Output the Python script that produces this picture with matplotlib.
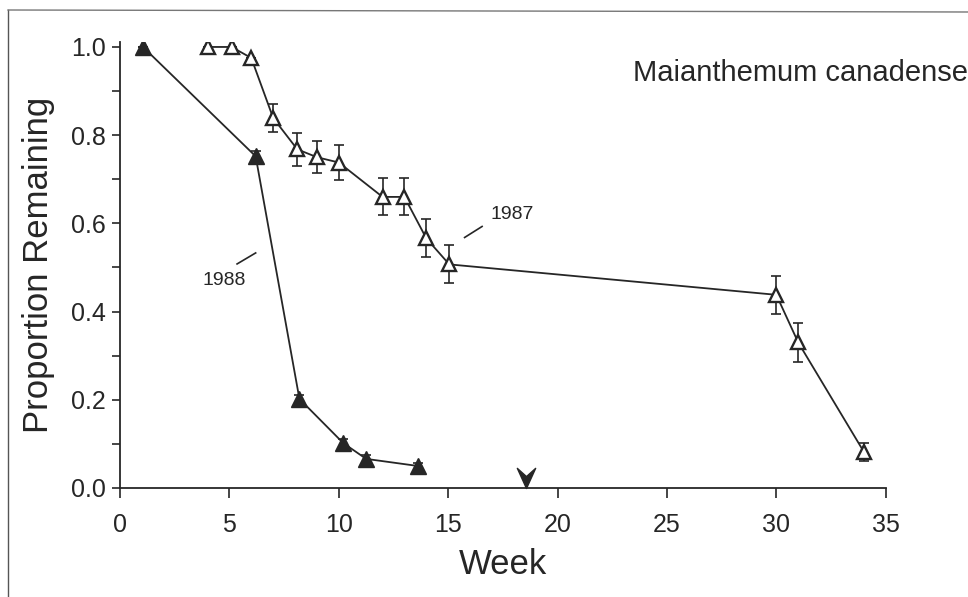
import numpy as np
import matplotlib
matplotlib.use("Agg")
import matplotlib.pyplot as plt
from matplotlib.path import Path
from matplotlib.lines import Line2D
from matplotlib.ticker import MultipleLocator

plt.rcParams['font.family'] = ['Liberation Sans', 'DejaVu Sans']

# data
week_88 = [1.05, 6.2, 8.2, 10.2, 11.25, 13.6]
prop_88 = [1.0, 0.752, 0.202, 0.102, 0.066, 0.05]
err_88 = [0.0, 0.012, 0.008, 0.008, 0.008, 0.006]

week_87 = [4.0, 5.1, 6.0, 7.0, 8.1, 9.0, 10.0, 12.0, 13.0, 14.0, 15.05, 30.0, 31.0, 34.0]
prop_87 = [1.0, 1.0, 0.975, 0.839, 0.768, 0.750, 0.738, 0.660, 0.660, 0.566, 0.507, 0.438, 0.330, 0.082]
err_87 = [0.0, 0.0, 0.0, 0.032, 0.037, 0.036, 0.040, 0.042, 0.042, 0.043, 0.043, 0.043, 0.045, 0.021]

arrow_week = 18.55
ink = '#262626'

fig = plt.figure(figsize=(9.68, 5.97), dpi=100)
ax = fig.add_axes([0.124, 0.1826, 0.791, 0.7476])

# 1988 (filled)
ax.errorbar(week_88, prop_88, yerr=err_88, fmt='none', ecolor=ink, elinewidth=1.2,
            capsize=3.5, capthick=1.2, zorder=2)
ax.plot(week_88, prop_88, '-', color=ink, lw=1.3, marker='^', ms=11.5,
        mfc=ink, mec=ink, zorder=3)

# 1987 (open)
ax.errorbar(week_87, prop_87, yerr=err_87, fmt='none', ecolor=ink, elinewidth=1.2,
            capsize=3.6, capthick=1.2, zorder=2)
ax.plot(week_87, prop_87, '-', color=ink, lw=1.3, marker='^', ms=10.5,
        mfc='white', mec=ink, mew=1.7, zorder=3)

# arrow marker on the x axis
chev = Path([(-1, 2.2), (0, 0), (1, 2.2), (0, 1.3), (-1, 2.2)],
            [Path.MOVETO, Path.LINETO, Path.LINETO, Path.LINETO, Path.CLOSEPOLY])
ax.plot([arrow_week], [0], marker=chev, ms=29, color=ink, clip_on=False, zorder=4)

# labels for the years
ax.text(16.95, 0.62, '1987', fontsize=14, color=ink, ha='left', va='center')
ax.plot([15.75, 16.55], [0.568, 0.593], color=ink, lw=1.2)
ax.text(3.75, 0.471, '1988', fontsize=14, color=ink, ha='left', va='center')
ax.plot([5.35, 6.2], [0.508, 0.533], color=ink, lw=1.2)

ax.text(23.45, 0.94, 'Maianthemum canadense', fontsize=21, color=ink,
        ha='left', va='center', clip_on=False)

ax.set_xlim(0, 35)
ax.set_ylim(0, 1.012)
ax.xaxis.set_major_locator(MultipleLocator(5))
ax.yaxis.set_major_locator(MultipleLocator(0.2))
ax.yaxis.set_minor_locator(MultipleLocator(0.1))
ax.set_yticks([0, 0.2, 0.4, 0.6, 0.8, 1.0])
ax.set_yticklabels(['0.0', '0.2', '0.4', '0.6', '0.8', '1.0'])
ax.spines['top'].set_visible(False)
ax.spines['right'].set_visible(False)
for s in ['left', 'bottom']:
    ax.spines[s].set_color(ink)
    ax.spines[s].set_linewidth(1.3)
ax.tick_params(axis='both', which='both', direction='out', color=ink, width=1.2,
               labelcolor=ink, labelsize=18)
ax.tick_params(axis='y', which='both', length=6, pad=4)
ax.tick_params(axis='x', which='major', length=7, pad=11)

ax.set_xlabel('Week', fontsize=25, color=ink, labelpad=8)
ax.set_ylabel('Proportion Remaining', fontsize=25, color=ink, labelpad=12)

# scan frame
fig.add_artist(Line2D([8 / 968, 8 / 968], [0, 1 - 10 / 597], transform=fig.transFigure,
                      color='#555555', lw=1.0))
fig.add_artist(Line2D([8 / 968, 1], [1 - 10 / 597, 1 - 12 / 597], transform=fig.transFigure,
                      color='#777777', lw=1.0))

fig.savefig('out.png', dpi=100)
